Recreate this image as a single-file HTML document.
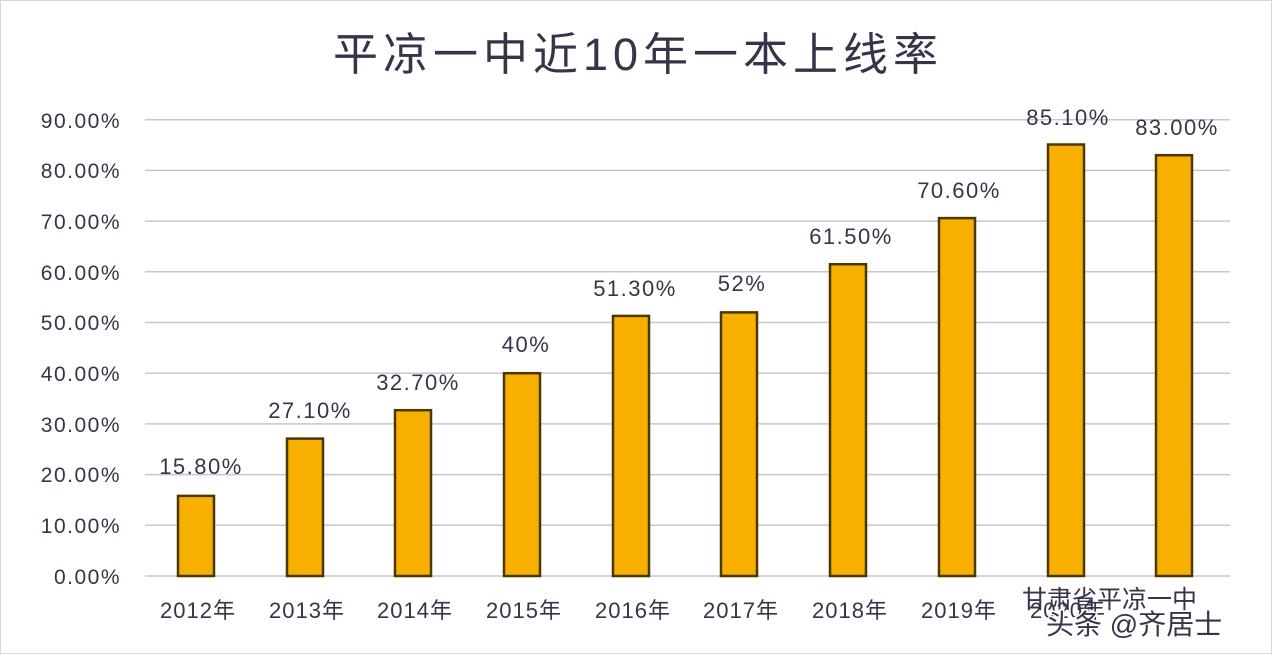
<!DOCTYPE html>
<html><head><meta charset="utf-8"><style>
body{margin:0;background:#fff}
svg text{font-family:"Liberation Sans","Noto Sans CJK SC",sans-serif;fill:#3a3249}
</style></head><body>
<svg width="1272" height="654" viewBox="0 0 1272 654" xmlns="http://www.w3.org/2000/svg">
<rect x="0.5" y="0.5" width="1271" height="653" fill="#fff" stroke="#d8d8d8"/>
<text x="638" y="70" font-size="45" text-anchor="middle" fill="#4a4450" style="letter-spacing:5px">平凉一中近10年一本上线率</text>
<g stroke="#c8c8cc" stroke-width="1.5">
<line x1="145" x2="1230" y1="576" y2="576"/>
<line x1="145" x2="1230" y1="525.3" y2="525.3"/>
<line x1="145" x2="1230" y1="474.6" y2="474.6"/>
<line x1="145" x2="1230" y1="423.9" y2="423.9"/>
<line x1="145" x2="1230" y1="373.2" y2="373.2"/>
<line x1="145" x2="1230" y1="322.5" y2="322.5"/>
<line x1="145" x2="1230" y1="271.8" y2="271.8"/>
<line x1="145" x2="1230" y1="221.1" y2="221.1"/>
<line x1="145" x2="1230" y1="170.4" y2="170.4"/>
<line x1="145" x2="1230" y1="119.7" y2="119.7"/>
</g>
<g font-size="21" text-anchor="end" style="letter-spacing:1.5px">
<text x="121" y="584">0.00%</text>
<text x="121" y="533">10.00%</text>
<text x="121" y="482">20.00%</text>
<text x="121" y="432">30.00%</text>
<text x="121" y="381">40.00%</text>
<text x="121" y="330">50.00%</text>
<text x="121" y="280">60.00%</text>
<text x="121" y="229">70.00%</text>
<text x="121" y="178">80.00%</text>
<text x="121" y="128">90.00%</text>
</g>
<g fill="#f8b000" stroke="#4a3800" stroke-width="2.5">
<rect x="178" y="495.9" width="36" height="80.1"/>
<rect x="287" y="438.6" width="36" height="137.4"/>
<rect x="395" y="410.2" width="36" height="165.8"/>
<rect x="504" y="373.2" width="36" height="202.8"/>
<rect x="613" y="315.9" width="36" height="260.1"/>
<rect x="721" y="312.4" width="36" height="263.6"/>
<rect x="830" y="264.2" width="36" height="311.8"/>
<rect x="939" y="218.1" width="36" height="357.9"/>
<rect x="1048" y="144.5" width="36" height="431.5"/>
<rect x="1156" y="155.2" width="36" height="420.8"/>
</g>
<g font-size="22" text-anchor="middle" style="letter-spacing:1.5px">
<text x="201" y="474">15.80%</text>
<text x="310" y="418">27.10%</text>
<text x="418" y="390">32.70%</text>
<text x="526" y="352">40%</text>
<text x="635" y="296">51.30%</text>
<text x="742" y="291">52%</text>
<text x="851" y="244">61.50%</text>
<text x="959" y="198">70.60%</text>
<text x="1068" y="125">85.10%</text>
<text x="1177" y="135">83.00%</text>
</g>
<g font-size="22" text-anchor="middle" style="letter-spacing:1px">
<text x="198" y="618">2012年</text>
<text x="307" y="618">2013年</text>
<text x="415" y="618">2014年</text>
<text x="524" y="618">2015年</text>
<text x="633" y="618">2016年</text>
<text x="741" y="618">2017年</text>
<text x="850" y="618">2018年</text>
<text x="959" y="618">2019年</text>
<text x="1068" y="618">2020年</text>
</g>
<text x="1022" y="608" font-size="25" fill="#5a5566">甘肃省平凉一中</text>
<text x="1046" y="634" font-size="28" fill="#222" stroke="#fff" stroke-width="3" paint-order="stroke">头条 @齐居士</text>
</svg>
</body></html>
